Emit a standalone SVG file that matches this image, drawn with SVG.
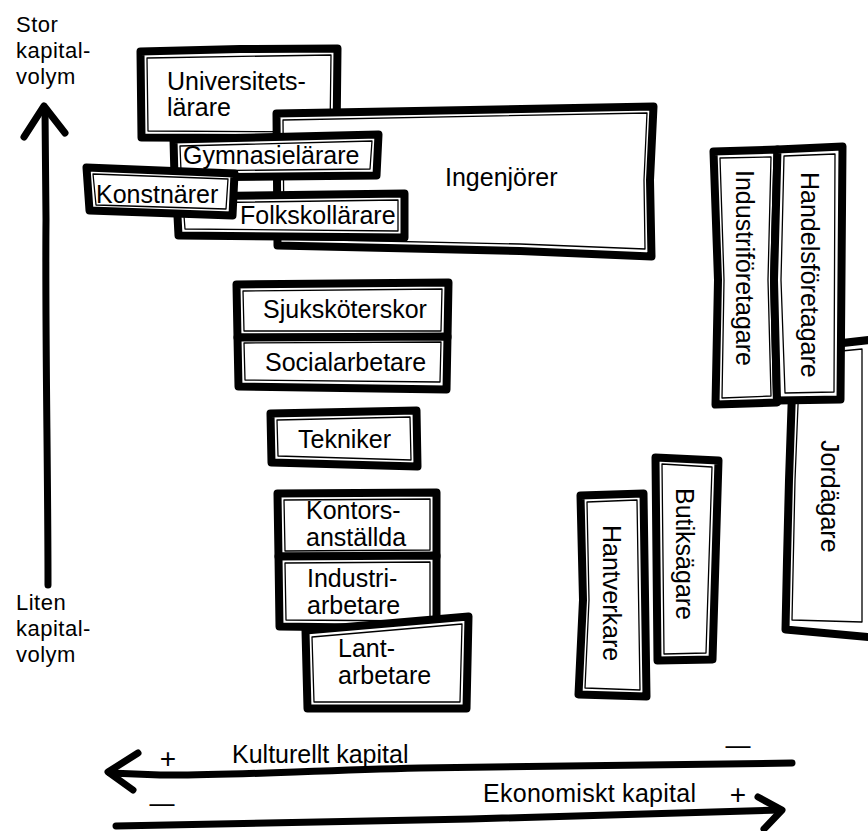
<svg xmlns="http://www.w3.org/2000/svg" width="868" height="831" viewBox="0 0 868 831">
<style>
.frame{fill:#fff;stroke:#000;stroke-width:8;stroke-linejoin:round}
.inner{fill:none;stroke:#000;stroke-width:1.3;stroke-linejoin:round}
.lbl{font-family:"Liberation Sans",Arial,Helvetica,sans-serif;font-size:25px;fill:#000}
.side{font-family:"Liberation Sans",Arial,Helvetica,sans-serif;font-size:22px;letter-spacing:0.5px;fill:#000}
.sign{font-family:"Liberation Sans",Arial,Helvetica,sans-serif;fill:#000}
.axis{fill:none;stroke:#000;stroke-width:7;stroke-linecap:round;stroke-linejoin:round}
</style>
<rect width="868" height="831" fill="#fff"/>

<g id="connectors">
  <path class="axis" d="M48,585 C48,470 45,330 46,220 L45,110"/>
  <path class="axis" d="M24,137 L44,106 L65,133"/>
  <path class="axis" d="M792,763 C700,764 560,765 420,768 C300,771 220,776 160,775 L110,773"/>
  <path class="axis" d="M138,753 L108,772 L133,790"/>
  <path class="axis" d="M116,826 C220,824 330,822 470,819 C600,816 700,812 780,810"/>
  <path class="axis" d="M758,797 L782,810 L764,829"/>
</g>

<g id="axis-labels">
  <text class="side" x="16" y="32">Stor</text>
  <text class="side" x="16" y="58">kapital-</text>
  <text class="side" x="16" y="84">volym</text>
  <text class="side" x="16" y="610">Liten</text>
  <text class="side" x="16" y="636">kapital-</text>
  <text class="side" x="16" y="662">volym</text>
  <text class="sign" x="168" y="768" font-size="28" text-anchor="middle">+</text>
  <text class="lbl" x="232" y="763">Kulturellt kapital</text>
  <text class="sign" x="738" y="754" font-size="25" text-anchor="middle">—</text>
  <text class="sign" x="162" y="812" font-size="25" text-anchor="middle">—</text>
  <text class="lbl" x="483" y="802" textLength="213">Ekonomiskt kapital</text>
  <text class="sign" x="738" y="804" font-size="28" text-anchor="middle">+</text>
</g>

<g id="universitetslarare">
  <path class="frame" d="M140.5,51.5 L240,49 L337.5,48.5 L336.5,138.5 L141.5,137.5 Z"/>
  <path class="inner" d="M147,58 L331,55 L330,132 L148,131 Z"/>
  <text class="lbl" x="167" y="90">Universitets-</text>
  <text class="lbl" x="167" y="116">lärare</text>
</g>

<g id="ingenjorer">
  <path class="frame" d="M276.5,113.5 L470,110 L653.5,106.5 L650,180 L651.5,256.5 L520,251 L277.5,245.5 Z"/>
  <path class="inner" d="M283,120 L647,113 L644,180 L645,249 L520,244 L284,239 Z"/>
  <text class="lbl" x="445" y="186">Ingenjörer</text>
</g>

<g id="gymnasielarare">
  <path class="frame" d="M173.5,139.5 L378.5,134.5 L376.5,175.5 L174.5,177.5 Z"/>
  <path class="inner" d="M180,146 L372,141 L370,169 L181,171 Z"/>
  <text class="lbl" x="183" y="164">Gymnasielärare</text>
</g>

<g id="folkskollarare">
  <path class="frame" d="M176.5,196.5 L404.5,193.5 L404.5,237.5 L178.5,235.5 Z"/>
  <path class="inner" d="M183,203 L398,200 L398,231 L185,229 Z"/>
  <text class="lbl" x="240" y="224">Folkskollärare</text>
</g>

<g id="konstnarer">
  <path class="frame" d="M86.5,167.5 L234.5,173.5 L232.5,215.5 L89.5,210.5 Z"/>
  <path class="inner" d="M93,174 L228,179 L226,209 L96,205 Z"/>
  <text class="lbl" x="96" y="203">Konstnärer</text>
</g>

<g id="sjukskoterskor">
  <path class="frame" d="M236.5,284.5 L448.5,282.5 L447.5,337.5 L237.5,337.5 Z"/>
  <path class="inner" d="M243,291 L442,289 L441,331 L244,331 Z"/>
  <text class="lbl" x="263" y="318">Sjuksköterskor</text>
</g>

<g id="socialarbetare">
  <path class="frame" d="M237.5,337.5 L447.5,336.5 L446.5,389.5 L238.5,386.5 Z"/>
  <path class="inner" d="M244,343 L441,342 L440,382 L245,380 Z"/>
  <text class="lbl" x="265" y="371">Socialarbetare</text>
</g>

<g id="tekniker">
  <path class="frame" d="M270.5,413.5 L416.5,410.5 L417.5,466.5 L271.5,462.5 Z"/>
  <path class="inner" d="M277,420 L410,417 L411,460 L278,456 Z"/>
  <text class="lbl" x="298" y="448">Tekniker</text>
</g>

<g id="kontorsanstallda">
  <path class="frame" d="M277.5,493.5 L436.5,492.5 L436.5,556.5 L278.5,556.5 Z"/>
  <path class="inner" d="M284,500 L430,499 L430,550 L285,551 Z"/>
  <text class="lbl" x="306" y="519">Kontors-</text>
  <text class="lbl" x="306" y="546">anställda</text>
</g>

<g id="industriarbetare">
  <path class="frame" d="M278.5,556.5 L436.5,555.5 L436.5,628.5 L279.5,626.5 Z"/>
  <path class="inner" d="M285,563 L430,562 L430,621 L286,620 Z"/>
  <text class="lbl" x="307" y="587">Industri-</text>
  <text class="lbl" x="307" y="614">arbetare</text>
</g>

<g id="lantarbetare">
  <path class="frame" d="M305.5,630.5 L468.5,616.5 L466.5,708.5 L307.5,708.5 Z"/>
  <path class="inner" d="M312,637 L462,624 L460,702 L314,702 Z"/>
  <text class="lbl" x="338" y="657">Lant-</text>
  <text class="lbl" x="338" y="684">arbetare</text>
</g>

<g id="jordagare">
  <path class="frame" d="M793.5,348.5 L878,339 L878,638 L785.5,629.5 L787,560 L789,480 Z"/>
  <path class="inner" d="M800,355 L862,349 L862,622 L792,620 L795,480 Z"/>
  <text class="lbl" transform="translate(821,440) rotate(90)">Jordägare</text>
</g>

<g id="industriforetagare">
  <path class="frame" d="M713.5,151.5 L777.5,149.5 L774,280 L777,402.5 L715.5,404.5 L718,280 Z"/>
  <path class="inner" d="M720,158 L771,157 L768,280 L771,396 L722,398 L724,280 Z"/>
  <text class="lbl" transform="translate(736,170) rotate(90)">Industriföretagare</text>
</g>

<g id="handelsforetagare">
  <path class="frame" d="M777.5,149.5 L842.5,146.5 L840.5,399.5 L777,400.5 L774,280 Z"/>
  <path class="inner" d="M784,156 L835,154 L834,392 L785,393 L781,280 Z"/>
  <text class="lbl" transform="translate(801,172) rotate(90)">Handelsföretagare</text>
</g>

<g id="butiksagare">
  <path class="frame" d="M655.5,457.5 L718.5,460.5 L712.5,659.5 L657.5,660.5 Z"/>
  <path class="inner" d="M662,464 L712,467 L706,653 L664,654 Z"/>
  <text class="lbl" transform="translate(676,488) rotate(90)">Butiksägare</text>
</g>

<g id="hantverkare">
  <path class="frame" d="M580.5,495.5 L643.5,493.5 L646.5,696.5 L578.5,694.5 L583,600 Z"/>
  <path class="inner" d="M587,502 L637,500 L640,690 L585,688 L589,600 Z"/>
  <text class="lbl" transform="translate(603,525) rotate(90)">Hantverkare</text>
</g>
</svg>
